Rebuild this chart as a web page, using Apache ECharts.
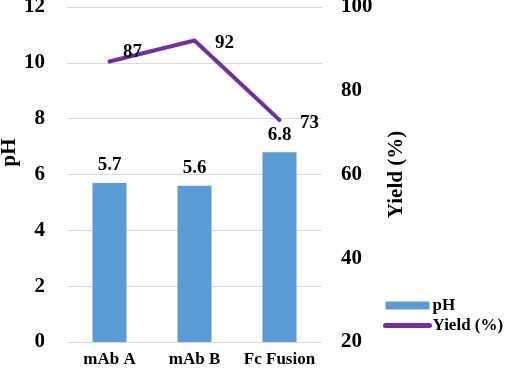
<!DOCTYPE html>
<html>
<head>
<meta charset="utf-8">
<script src="https://cdn.jsdelivr.net/npm/echarts@6/dist/echarts.min.js"></script>
<style>
  html, body { margin: 0; padding: 0; background: #fff; }
  #chart { width: 505px; height: 369px; }
</style>
</head>
<body>
<div id="chart"></div>
<script>
// Data
const categories = ['mAb A', 'mAb B', 'Fc Fusion'];
const phValues = [5.7, 5.6, 6.8];
const yieldValues = [87, 92, 73];

const font = 'Liberation Serif';

const chart = echarts.init(document.getElementById('chart'));

const option = {
    animation: false,
    textStyle: { fontFamily: font, fontWeight: 'bold', color: '#000' },
    grid: { left: 67, right: 183, top: 7, bottom: 27, outerBoundsMode: 'none', containLabel: false },
    legend: {
        orient: 'vertical',
        left: 378, top: 292,
        itemWidth: 44, itemHeight: 8, itemGap: 3,
        textStyle: { fontFamily: font, fontWeight: 'bold', fontSize: 17, color: '#000', padding: [0, 0, 0, -2] },
        data: [
            { name: 'pH', icon: 'rect' },
            { name: 'Yield (%)', lineStyle: { width: 5, cap: 'round' } }
        ]
    },
    xAxis: {
        type: 'category',
        data: categories,
        axisLine: { show: false },
        axisTick: { show: false },
        axisLabel: { interval: 0, color: '#000', fontFamily: font, fontWeight: 'bold', fontSize: 17, margin: 9 }
    },
    yAxis: [
        {
            type: 'value',
            min: 0, max: 12, interval: 2,
            name: 'pH',
            nameLocation: 'middle',
            nameRotate: 90,
            nameGap: 47,
            nameMoveOverlap: false,
            nameTextStyle: { color: '#000', fontFamily: font, fontWeight: 'bold', fontSize: 21, padding: [0, 0, 0, 44] },
            axisLine: { show: false },
            axisTick: { show: false },
            axisLabel: { color: '#000', fontFamily: font, fontWeight: 'bold', fontSize: 21, margin: 22 },
            splitLine: { lineStyle: { color: '#d9d9d9', width: 1 } }
        },
        {
            type: 'value',
            min: 20, max: 100, interval: 20,
            name: 'Yield (%)',
            nameLocation: 'middle',
            nameRotate: 90,
            nameGap: 64,
            nameMoveOverlap: false,
            nameTextStyle: { color: '#000', fontFamily: font, fontWeight: 'bold', fontSize: 21 },
            axisLine: { show: false },
            axisTick: { show: false },
            axisLabel: { color: '#000', fontFamily: font, fontWeight: 'bold', fontSize: 21, margin: 19 },
            splitLine: { show: false }
        }
    ],
    series: [
        {
            name: 'pH',
            type: 'bar',
            data: phValues,
            barWidth: '40%',
            itemStyle: { color: '#5B9BD5' },
            label: {
                show: true, position: 'top', distance: 8,
                color: '#000', fontFamily: font, fontWeight: 'bold', fontSize: 19
            }
        },
        {
            name: 'Yield (%)',
            type: 'line',
            yAxisIndex: 1,
            data: yieldValues.map((v, i) => i === 0
                ? { value: v, label: { position: 'right', distance: 13, offset: [0, -9] } }
                : { value: v }),
            symbol: 'circle',
            symbolSize: 1,
            itemStyle: { color: 'rgba(0,0,0,0)', borderWidth: 0 },
            lineStyle: { color: '#7030A0', width: 4, cap: 'round' },
            label: {
                show: true, position: 'right', distance: 20, offset: [0, 3],
                color: '#000', fontFamily: font, fontWeight: 'bold', fontSize: 19
            }
        }
    ]
};

chart.setOption(option);
</script>
</body>
</html>
